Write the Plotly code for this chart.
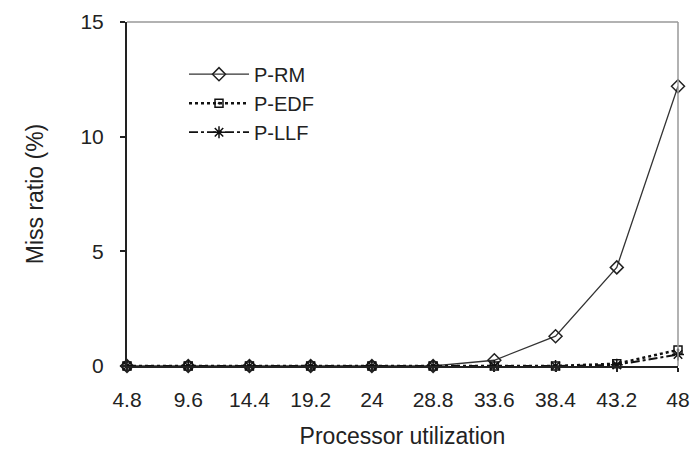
import plotly.graph_objects as go

categories = ["4.8", "9.6", "14.4", "19.2", "24", "28.8", "33.6", "38.4", "43.2", "48"]
p_rm = [0, 0, 0, 0, 0, 0, 0.25, 1.3, 4.3, 12.2]
p_edf = [0, 0, 0, 0, 0, 0, 0, 0, 0.1, 0.7]
p_llf = [0, 0, 0, 0, 0, 0, 0, 0, 0.05, 0.5]
y_ticks = [0, 5, 10, 15]

xi = list(range(len(categories)))
fig = go.Figure()
fig.add_trace(go.Scatter(x=xi, y=p_rm, name="P-RM", mode="lines+markers",
                         line=dict(color="#333", width=1.3),
                         marker=dict(symbol="diamond-open", size=10, color="#222", line=dict(width=1.5)),
                         cliponaxis=False))
fig.add_trace(go.Scatter(x=xi, y=p_edf, name="P-EDF", mode="lines+markers",
                         line=dict(color="#111", width=2.5, dash="dot"),
                         marker=dict(symbol="square-open-dot", size=8, color="#111", line=dict(width=1.5)),
                         cliponaxis=False))
fig.add_trace(go.Scatter(x=xi, y=p_llf, name="P-LLF", mode="lines+markers",
                         line=dict(color="#111", width=1.8, dash="dashdot"),
                         marker=dict(symbol="asterisk-open", size=10, color="#111", line=dict(width=1.5, color="#111")),
                         cliponaxis=False))

fig.update_layout(
    width=695, height=452,
    margin=dict(l=127, r=17, t=22, b=86),
    plot_bgcolor="white", paper_bgcolor="white",
    font=dict(family="Liberation Sans, Arial", size=21, color="#222"),
    showlegend=True,
    legend=dict(x=(184 - 127) / 551, y=0.905, xanchor="left", yanchor="top",
                bgcolor="rgba(0,0,0,0)", font=dict(size=20, color="#222"),
                tracegroupgap=0, itemwidth=60),
    xaxis=dict(range=[0, 9], tickmode="array", tickvals=xi, ticktext=categories,
               showgrid=False, zeroline=False, showline=True, linecolor="#222", linewidth=2,
               ticks="outside", ticklen=4, tickcolor="#222", tickwidth=1.5,
               ticklabelstandoff=10, tickfont=dict(size=21), automargin=False,
               title=dict(text="Processor utilization", font=dict(size=23, color="#222"), standoff=18)),
    yaxis=dict(range=[0, 15], tickmode="array", tickvals=y_ticks,
               showgrid=False, zeroline=False, showline=True, linecolor="#222", linewidth=2,
               ticks="outside", ticklen=5, tickcolor="#222", tickwidth=1.5,
               ticklabelstandoff=12, tickfont=dict(size=21), automargin=False,
               title=dict(text="Miss ratio (%)", font=dict(size=23, color="#222"), standoff=30)),
)
# gray top and right frame lines
fig.add_shape(type="line", xref="paper", yref="paper", x0=0, x1=1, y0=1, y1=1,
              line=dict(color="#999", width=1.5))
fig.add_shape(type="line", xref="paper", yref="paper", x0=1, x1=1, y0=0, y1=1,
              line=dict(color="#999", width=1.5))

fig.write_html("out.html")
